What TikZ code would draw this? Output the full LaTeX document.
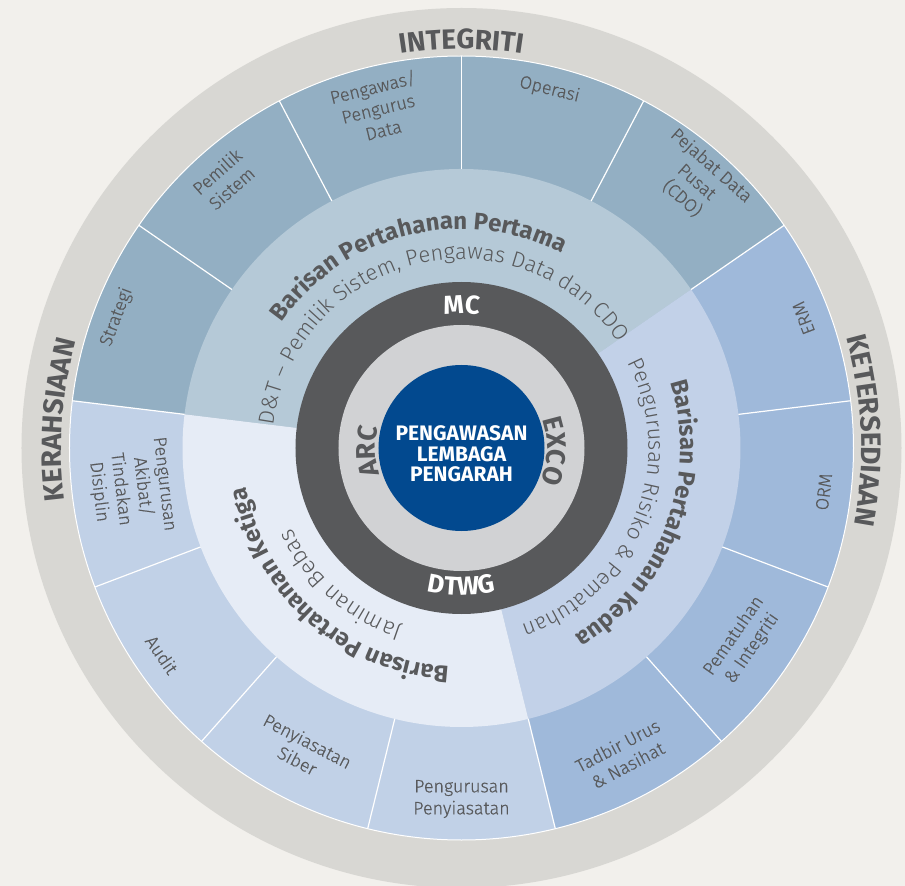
\documentclass[tikz,border=0pt]{standalone}
\usepackage{fontspec}
\setmainfont{Fira Sans}
\newfontfamily\thinfont{Fira Sans Light}
\newfontfamily\bookfont{Fira Sans Light}[FakeBold=0.5]
\usetikzlibrary{decorations.text}

\definecolor{paper}{HTML}{F2F0EC}
\definecolor{outerring}{HTML}{D8D7D3}
\definecolor{segfirst}{HTML}{93AFC3}
\definecolor{midfirst}{HTML}{B5C9D7}
\definecolor{segsecond}{HTML}{9FB9DA}
\definecolor{midsecond}{HTML}{C2D1E8}
\definecolor{segthird}{HTML}{C1D1E7}
\definecolor{midthird}{HTML}{E6ECF6}
\definecolor{boardring}{HTML}{58595B}
\definecolor{committeering}{HTML}{D1D2D4}
\definecolor{coreblue}{HTML}{02498F}
\definecolor{labelgrey}{HTML}{58595B}

\tikzset{
  seglabel/.style={font=\bookfont\fontsize{18}{22}\selectfont, text=labelgrey, align=center, inner sep=0pt}
}

% sector: colour, start angle, end angle, outer radius
\newcommand{\ringsector}[4]{%
  \fill[#1] (0,0) -- (#2:#4) arc[start angle=#2, end angle=#3, radius=#4] -- cycle;}
% text on a clockwise arc (tops outward): radius, start angle, end angle, format, text
\newcommand{\cwtext}[5]{%
  \path[decorate, decoration={text along path, text align=center, text={|#4|#5}}]
    (#2:#1) arc[start angle=#2, end angle=#3, radius=#1];}

\begin{document}
\begin{tikzpicture}
    \fill[paper] (-461.5pt,-438pt) rectangle (443.5pt,448pt);
    \useasboundingbox (-461.5pt,-438pt) rectangle (443.5pt,448pt);
    \fill[outerring] (0,0) circle[radius=440pt];
    % outer segments and the three lines of defence
    \ringsector{segfirst}{34.615}{173.077}{392pt}
    \ringsector{segsecond}{-76.154}{34.615}{392pt}
    \ringsector{segthird}{173.077}{283.846}{392pt}
    \ringsector{midfirst}{34.615}{173.077}{279pt}
    \ringsector{midsecond}{-76.154}{34.615}{279pt}
    \ringsector{midthird}{173.077}{283.846}{279pt}
    \foreach \k in {0,...,12}
        \draw[white, line width=1.2pt] ({90+\k*360/13}:279pt) -- ({90+\k*360/13}:392pt);
    \draw[white, line width=1pt] (0,0) circle[radius=392pt];
    \fill[boardring] (0,0) circle[radius=166pt];
    \fill[committeering] (0,0) circle[radius=123pt];
    \fill[coreblue] (0,0) circle[radius=83pt];
    \node[font=\bfseries\fontsize{21}{20.5}\selectfont, text=white, align=center] (core) at (0,-6pt) {PENGAWASAN\\LEMBAGA\\PENGARAH};

    % segment labels
    \foreach \ang/\rad/\name/\txt in {159.2/369/strategi/Strategi, 131.5/358/pemilik/{Pemilik\\Sistem},
        103.8/350/pengawas/{Pengawas/\\Pengurus\\Data}, 76.2/369/operasi/Operasi,
        48.5/355/cdo/{Pejabat Data\\Pusat\\(CDO)}}
        \node[seglabel, rotate=\ang-90] (\name) at (\ang:\rad pt) {\txt};
    \foreach \ang/\rad/\name/\txt in {20.8/366/erm/ERM, -6.9/365/orm/ORM,
        -34.6/342/pematuhan/{Pematuhan\\\& Integriti}, -62.3/347/tadbir/{Tadbir Urus\\\& Nasihat},
        -90/351/penyiasatan/{Pengurusan\\Penyiasatan}, -117.7/342/siber/{Penyiasatan\\Siber},
        -145.4/364/audit/Audit, -173.1/333/akibat/{Pengurusan\\Akibat/\\Tindakan\\Disiplin}}
        \node[seglabel, rotate=\ang+90] (\name) at (\ang:\rad pt) {\txt};

    % curved titles
    \cwtext{219pt}{173.077}{34.615}{\bfseries\fontsize{24}{24}\selectfont\color{labelgrey}}{Barisan Pertahanan Pertama}
    \cwtext{189pt}{178}{29}{\thinfont\fontsize{22}{22}\selectfont\color{labelgrey}}{D{\&}T – Pemilik Sistem, Pengawas Data dan CDO}
    \cwtext{219pt}{34.615}{-76.154}{\bfseries\fontsize{24}{24}\selectfont\color{labelgrey}}{Barisan Pertahanan Kedua}
    \cwtext{187pt}{32}{-76.154}{\thinfont\fontsize{22}{22}\selectfont\color{labelgrey}}{Pengurusan Risiko {\&} Pematuhan}
    \cwtext{219pt}{283.846}{173.077}{\bfseries\fontsize{24}{24}\selectfont\color{labelgrey}}{Barisan Pertahanan Ketiga}
    \cwtext{188pt}{283.846}{173.077}{\thinfont\fontsize{23}{23}\selectfont\color{labelgrey}}{Jaminan Bebas}

    \cwtext{399pt}{120}{60}{\bfseries\fontsize{28}{28}\selectfont\color{labelgrey}}{INTEGRITI}
    \cwtext{400pt}{206}{146}{\bfseries\fontsize{28}{28}\selectfont\color{labelgrey}}{KERAHSIAAN}
    \cwtext{400pt}{32.5}{-27.5}{\bfseries\fontsize{28}{28}\selectfont\color{labelgrey}}{KETERSEDIAAN}

    \cwtext{134pt}{120}{60}{\bfseries\fontsize{26}{26}\selectfont\color{white}}{MC}
    \path[decorate, decoration={text along path, text align=center, text={|\bfseries\fontsize{26}{26}\selectfont\color{white}|DTWG}}]
        (240:147pt) arc[start angle=240, end angle=300, radius=147pt];
    \cwtext{86pt}{222}{142}{\bfseries\fontsize{27}{27}\selectfont\color{labelgrey}}{ARC}
    \cwtext{86pt}{38}{-42}{\bfseries\fontsize{27}{27}\selectfont\color{labelgrey}}{EXCO}
\end{tikzpicture}
\end{document}
